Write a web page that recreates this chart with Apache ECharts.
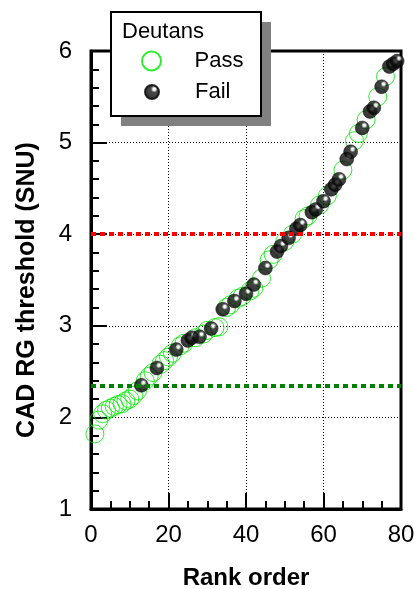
<!DOCTYPE html>
<html>
<head>
<meta charset="utf-8">
<script src="https://cdn.jsdelivr.net/npm/echarts@6/dist/echarts.min.js"></script>
<style>
html, body { margin: 0; padding: 0; background: #fff; }
#chart { width: 414px; height: 589px; }
</style>
</head>
<body>
<div id="chart"></div>
<script>
// rank order / threshold
var passRank = [1, 2, 3, 4, 5, 6, 7, 8, 9, 10, 11, 12, 14, 15, 16, 18, 19, 20, 21, 23, 24, 27, 29, 30, 32, 33,
    35, 36, 38, 39, 41, 42, 44, 46, 47, 50, 52, 55, 56, 59, 61, 65, 68, 69, 71, 74, 76];
var passValue = [1.82, 1.97, 2.04, 2.08, 2.10, 2.12, 2.14, 2.15, 2.18, 2.20, 2.24, 2.29, 2.40, 2.45, 2.49, 2.58, 2.62, 2.66, 2.70, 2.78, 2.81, 2.87, 2.91, 2.95, 2.98, 2.99,
    3.20, 3.23, 3.30, 3.32, 3.38, 3.41, 3.52, 3.72, 3.78, 3.92, 4.00, 4.17, 4.20, 4.32, 4.42, 4.70, 5.02, 5.10, 5.25, 5.50, 5.72];
var failRank = [13, 17, 22, 25, 26, 28, 31, 34, 37, 40, 42, 45, 48, 49, 51, 53, 54, 57, 58, 60, 62, 63, 64, 66, 67, 70, 72, 73, 75, 77, 78, 79];
var failValue = [2.35, 2.54, 2.74, 2.84, 2.87, 2.88, 2.97, 3.18, 3.27, 3.35, 3.45, 3.63, 3.81, 3.87, 3.96, 4.06, 4.10, 4.24, 4.27, 4.36, 4.49, 4.54, 4.60, 4.82, 4.90, 5.16, 5.34, 5.38, 5.61, 5.83, 5.86, 5.89];
var thresholdValue = [4, 2.35];
var thresholdColor = ['#ff0000', '#008000'];
var groupTitle = 'Deutans';
var groups = ['Pass', 'Fail'];

function pairs(xs, ys) {
    return xs.map(function (x, i) { return [x, ys[i]]; });
}

// black sphere with a small highlight up and to the right
var ball = {
    type: 'radial', x: 0.64, y: 0.32, r: 0.7,
    colorStops: [
        {offset: 0, color: '#ffffff'},
        {offset: 0.12, color: '#f0f0f0'},
        {offset: 0.3, color: '#1a1a1a'},
        {offset: 1, color: '#000000'}
    ]
};

var myChart = echarts.init(document.getElementById('chart'));
var fontFam = '"Liberation Sans", Arial, sans-serif';

var option = {
    animation: false,
    backgroundColor: '#fff',
    grid: {
        left: 91, right: 13, top: 51, bottom: 80,
        outerBoundsMode: 'none',
        show: true, borderColor: '#000', borderWidth: 3, backgroundColor: 'transparent'
    },
    xAxis: {
        type: 'value', min: 0, max: 80, interval: 20,
        name: 'Rank order', nameLocation: 'middle', nameGap: 57,
        nameTextStyle: {fontFamily: fontFam, fontSize: 24, fontWeight: 'bold', color: '#000'},
        axisLine: {show: true, lineStyle: {color: '#000', width: 3}},
        axisTick: {show: true, inside: true, length: 16, lineStyle: {color: '#000', width: 2}},
        minorTick: {show: true, splitNumber: 4, length: 8, lineStyle: {color: '#000', width: 2}},
        axisLabel: {fontFamily: fontFam, fontSize: 24, color: '#000', margin: 14},
        splitLine: {show: true, lineStyle: {color: '#000', width: 1, type: [1, 2]}}
    },
    yAxis: {
        type: 'value', min: 1, max: 6, interval: 1,
        name: 'CAD RG threshold (SNU)', nameLocation: 'middle', nameGap: 51,
        nameTextStyle: {fontFamily: fontFam, fontSize: 25, fontWeight: 'bold', color: '#000',
            padding: [0, 20, 0, 0]},
        axisLine: {show: true, lineStyle: {color: '#000', width: 3}},
        axisTick: {show: true, inside: true, length: 16, lineStyle: {color: '#000', width: 2}},
        minorTick: {show: true, splitNumber: 5, length: 8, lineStyle: {color: '#000', width: 2}},
        axisLabel: {fontFamily: fontFam, fontSize: 24, color: '#000', margin: 19},
        splitLine: {show: true, lineStyle: {color: '#000', width: 1, type: [1, 2]}}
    },
    legend: [
        {
            data: [groups[0]], left: 141, top: 50, padding: 0, z: 20,
            itemWidth: 76, itemHeight: 19,
            textStyle: {fontFamily: fontFam, fontSize: 22, color: '#000'}
        },
        {
            data: [groups[1]], left: 144, top: 81, padding: 0, z: 20,
            itemWidth: 76, itemHeight: 14,
            textStyle: {fontFamily: fontFam, fontSize: 22, color: '#000'}
        }
    ],
    graphic: [
        {type: 'rect', z: 10, shape: {x: 121, y: 22, width: 150, height: 104}, style: {fill: '#808080'}},
        {type: 'rect', z: 11, shape: {x: 111, y: 12, width: 150, height: 104},
            style: {fill: '#fff', stroke: '#000', lineWidth: 2}},
        {type: 'text', z: 12, x: 122, y: 32,
            style: {text: groupTitle, font: '22px ' + fontFam, fill: '#000', verticalAlign: 'middle'}}
    ],
    series: [
        {
            name: groups[0],
            type: 'scatter',
            symbol: 'circle',
            symbolSize: 18,
            itemStyle: {color: 'transparent', borderColor: '#00e600', borderWidth: 1},
            data: pairs(passRank, passValue),
            z: 3
        },
        {
            name: groups[1],
            type: 'scatter',
            symbol: 'circle',
            symbolSize: 14,
            itemStyle: {color: ball, borderColor: '#000', borderWidth: 0.5},
            data: pairs(failRank, failValue),
            markLine: {
                silent: true,
                symbol: ['none', 'none'],
                label: {show: false},
                data: thresholdValue.map(function (v, i) {
                    return {yAxis: v, lineStyle: {color: thresholdColor[i], width: 4, type: [5, 4]}};
                })
            },
            z: 4
        }
    ]
};

myChart.setOption(option);
</script>
</body>
</html>
